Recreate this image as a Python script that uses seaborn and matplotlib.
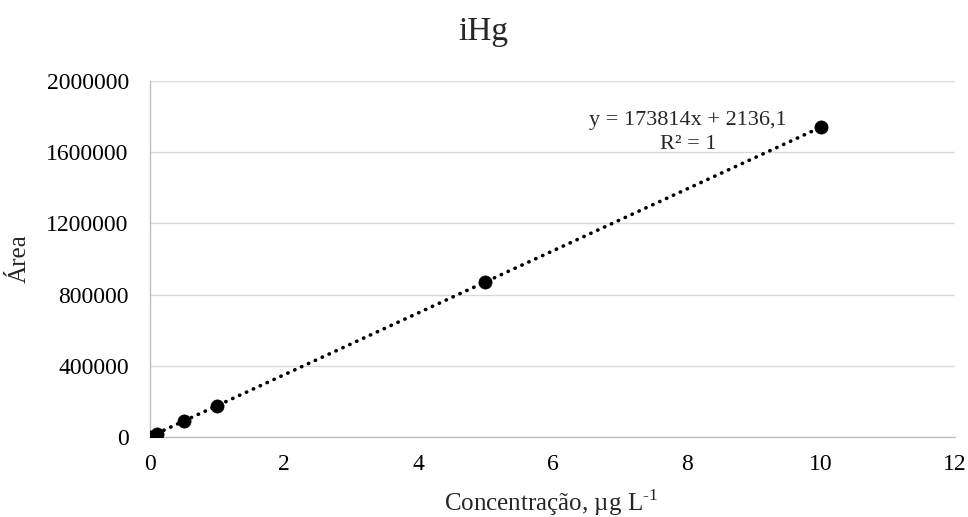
import matplotlib
matplotlib.use("Agg")
import matplotlib.pyplot as plt
import matplotlib.transforms as mtransforms
import seaborn as sns
import numpy as np
import pandas as pd

conc = [0, 0.1, 0.5, 1, 5, 10]
area = [2136, 19517, 89043, 175950, 871206, 1740276]
slope = 173814
intercept = 2136.1
xticks = [0, 2, 4, 6, 8, 10, 12]
yticks = [0, 400000, 800000, 1200000, 1600000, 2000000]

sns.set_theme(style="white")
plt.rcParams['font.family'] = ['Liberation Serif', 'DejaVu Serif']
plt.rcParams['mathtext.fontset'] = 'custom'
plt.rcParams['mathtext.rm'] = 'Liberation Serif'

W, H = 968, 517
fig = plt.figure(figsize=(W/100, H/100), dpi=100)
ax = fig.add_axes([150/W, 1-437/H, (955-150)/W, (437-81)/H])

df = pd.DataFrame({"x": conc, "y": area})
xt = np.array([0, 10])
ax.plot(xt, slope*xt + intercept, color="black", linestyle=(0, (0.1, 2.0)), linewidth=2.6,
        dash_capstyle="round", zorder=2)
sns.scatterplot(data=df, x="x", y="y", ax=ax, color="black", s=90, edgecolor="black",
                linewidth=0.5, zorder=3, legend=False)

ax.set_xlim(0, 12)
ax.set_ylim(0, 2000000)
ax.set_xticks(xticks)
ax.set_yticks(yticks)
ax.set_xticklabels([str(t) for t in xticks], fontsize=17)
ax.set_yticklabels([str(t) for t in yticks], fontsize=17)
ax.yaxis.grid(True, color="#d9d9d9", linewidth=1)
ax.xaxis.grid(False)
for s in ["top", "right"]:
    ax.spines[s].set_visible(False)
for s in ["left", "bottom"]:
    ax.spines[s].set_color("#bfbfbf")
    ax.spines[s].set_linewidth(1)
ax.tick_params(axis="y", length=4.3, width=1, color="#bfbfbf", direction="out", pad=11, labelcolor="black")
ax.tick_params(axis="x", length=0, pad=12, labelcolor="black")
ax.set_xlabel("")
ax.set_ylabel("")

px = mtransforms.Affine2D().scale(1, -1).translate(0, H)

fig.text(551/W, 1-511/H, "Concentração, µg L$^{\\text{-1}}$", ha="center", va="baseline", fontsize=18)
fig.text(20/W, 1-259/H, "Área", ha="center", va="center", rotation=90, fontsize=18)
fig.text(483/W, 1-40/H, "iHg", ha="center", va="baseline", fontsize=24)

ax.text(688, 125, "y = 173814x + 2136,1", ha="center", va="baseline", fontsize=16, transform=px)
ax.text(688, 149, "R² = 1", ha="center", va="baseline", fontsize=16, transform=px)

fig.savefig("out.png", dpi=100)
